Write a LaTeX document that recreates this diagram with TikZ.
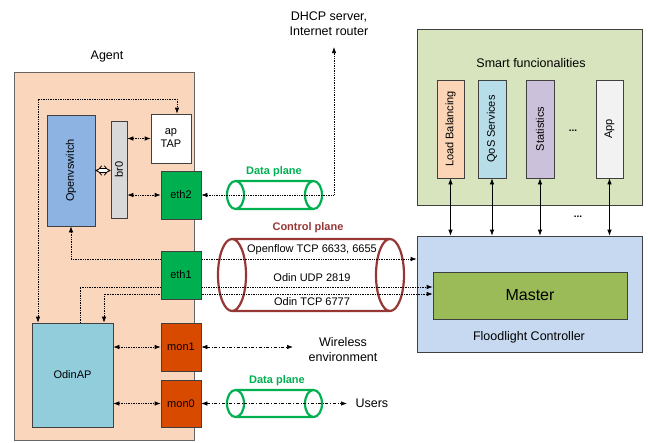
\documentclass[tikz,border=0pt]{standalone}
\usepackage{fontspec}
\setmainfont{Liberation Sans}
\usetikzlibrary{arrows.meta}
\definecolor{agentbg}{HTML}{FAD7BC}
\definecolor{ovsblue}{HTML}{8DB3E2}
\definecolor{brgray}{HTML}{D9D9D9}
\definecolor{ethgreen}{HTML}{00B050}
\definecolor{monred}{HTML}{D84A00}
\definecolor{odinblue}{HTML}{92CDDC}
\definecolor{smartbg}{HTML}{D7E4BD}
\definecolor{floodbg}{HTML}{C6D9F1}
\definecolor{mastergreen}{HTML}{9BBB59}
\definecolor{lbpeach}{HTML}{FBD5B5}
\definecolor{qosblue}{HTML}{B7DDE8}
\definecolor{statlilac}{HTML}{CCC1DA}
\definecolor{appgray}{HTML}{F2F2F2}
\definecolor{ctrlred}{HTML}{953735}
\begin{document}
\begin{tikzpicture}[x=1pt, y=-1pt, >={Latex[length=6pt,width=4.5pt]},
	box/.style = {shape=rectangle, draw=black!75, line width=0.7pt, inner sep=0pt, align=center, font=\fontsize{11}{13}\selectfont},
	sz/.style n args = {2}{minimum width=#1pt, minimum height=#2pt},
	title/.style = {align=center, font=\fontsize{12.5}{15}\selectfont},
	port/.style = {font=\fontsize{11}{13}\selectfont},
	plane/.style = {font=\bfseries\fontsize{11}{13}\selectfont},
	dotline/.style = {densely dotted, line width=0.7pt},
	dashdotline/.style = {dash dot, line width=0.7pt},
	tube/.style = {line width=2.2pt}]
	\useasboundingbox (0,0) rectangle (648,442);
	% agent side
	\node[box, sz={180}{368}, fill=agentbg, draw=black!60] (agent) at (104,256.5) {};
	\node[title] (agentlabel) at (107,56) {Agent};
	\node[box, sz={48}{111}, fill=ovsblue] (ovs) at (71,170.5) {\rotatebox{90}{Openvswitch}};
	\node[box, sz={16}{97}, fill=brgray] (br0) at (119,169.5) {\rotatebox{90}{br0}};
	\node[box, sz={40}{49}, fill=white] (tap) at (171,138.5) {ap\\TAP};
	\node[box, sz={40}{48}, fill=ethgreen] (eth2) at (181,195) {eth2};
	\node[box, sz={81}{104}, fill=odinblue] (odin) at (72.5,375) {OdinAP};
	\node[box, sz={40}{48}, fill=monred] (mon1) at (181,347) {mon1};
	\node[box, sz={40}{47}, fill=monred] (mon0) at (181,403.5) {mon0};
	% controller side
	\node[box, sz={225}{176}, fill=smartbg] (smart) at (529.5,117) {};
	\node[title] (smartlabel) at (531,63) {Smart funcionalities};
	\node[box, sz={27}{98}, fill=lbpeach] (lb) at (450.5,129) {\rotatebox{90}{Load Balancing}};
	\node[box, sz={28}{98}, fill=qosblue] (qos) at (492,129) {\rotatebox{90}{QoS Services}};
	\node[box, sz={28}{98}, fill=statlilac] (stat) at (540,129) {\rotatebox{90}{Statistics}};
	\node[font=\bfseries] (dots1) at (573,131) {...};
	\node[box, sz={27}{98}, fill=appgray] (app) at (609.5,129) {\rotatebox{90}{App}};
	\node[box, sz={225}{116}, fill=floodbg] (flood) at (529.5,294) {};
	\node[box, sz={194}{47}, fill=mastergreen, font=\fontsize{16}{19}\selectfont] (master) at (530,295.5) {Master};
	\node[title] (floodlabel) at (529,337) {Floodlight Controller};
	\node[font=\bfseries] (dots2) at (578,217) {...};
	\foreach \app in {lb, qos, stat, app}
		\draw[<->, line width=0.7pt] (\app.south) -- (\app.south |- flood.north);
	% tubes
	\draw[tube, ethgreen] (235.5,195) ellipse [x radius=8.5pt, y radius=14pt] (313.5,195) ellipse [x radius=8.5pt, y radius=14pt]
		(235.5,181) -- (313.5,181) (235.5,209) -- (313.5,209);
	\draw[tube, ethgreen] (235.5,403.5) ellipse [x radius=8.5pt, y radius=13.5pt] (313.5,403.5) ellipse [x radius=8.5pt, y radius=13.5pt]
		(235.5,390) -- (313.5,390) (235.5,417) -- (313.5,417);
	\draw[tube, ctrlred] (232,275) ellipse [x radius=14pt, y radius=36pt] (390,275) ellipse [x radius=14pt, y radius=36pt]
		(232,239) -- (390,239) (232,311) -- (390,311);
	\node[plane, text=ethgreen] (dataup) at (274,172) {Data plane};
	\node[plane, text=ethgreen] (datadown) at (277,381) {Data plane};
	\node[plane, text=ctrlred] (ctrl) at (308,228) {Control plane};
	\node[port] (ofl) at (312,250) {Openflow TCP 6633, 6655};
	\node[port] (udpl) at (312,278) {Odin UDP 2819};
	\node[port] (tcpl) at (312,302) {Odin TCP 6777};
	% outside world
	\node[title] (dhcp) at (329,24) {DHCP server,\\Internet router};
	\node[title] (wireless) at (343,350) {Wireless\\environment};
	\node[title, anchor=west] (users) at (352,403) {Users};
	\coordinate (router) at (334,47);
	\coordinate (air) at (293,347);
	\coordinate (clients) at (347,403.5);
	\coordinate (loop) at (38,99);
	\coordinate (of) at (71,259);
	\coordinate (udp) at (80,287);
	\coordinate (tcp) at (104,294);
	% connectors
	\draw[double, double distance=2.6pt, line width=0.8pt, {Implies[length=4pt]}-{Implies[length=4pt]}] (ovs.east) -- (br0.west |- ovs.east);
	\draw[dotline, <->] (br0.east |- tap) -- (tap.west);
	\draw[dotline, <->] (br0.east |- eth2) -- (eth2.west);
	\draw[dotline, <->] (eth2.east) -| (router);
	\draw[dotline, <->] (loop |- odin.north) -- (loop) -| ([xshift=6pt]tap.north);
	\draw[dotline, <->] (ovs.south) -- (of) -- (of -| flood.west);
	\draw[dotline, ->] (udp |- odin.north) -- (udp) -- (udp -| master.west);
	\draw[dotline, <->] (tcp |- odin.north) -- (tcp) -- (tcp -| master.west);
	\draw[dotline, <->] (odin.east |- mon1) -- (mon1.west);
	\draw[dotline, <->] (odin.east |- mon0) -- (mon0.west);
	\draw[dashdotline, <->] (mon1.east) -- (air);
	\draw[dashdotline, <->] (mon0.east) -- (clients);
	\node[box, sz={40}{48}, fill=ethgreen] (eth1) at (181,275) {eth1};
\end{tikzpicture}
\end{document}
